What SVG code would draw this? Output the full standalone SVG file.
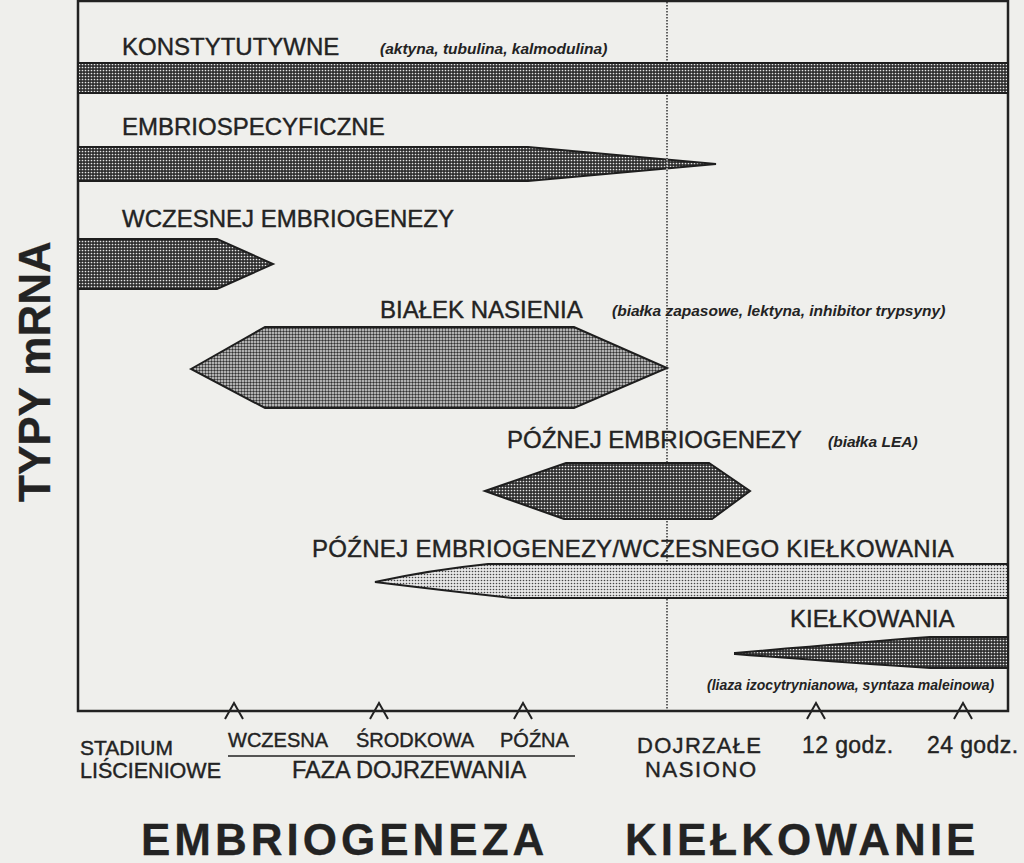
<svg xmlns="http://www.w3.org/2000/svg" width="1024" height="863" viewBox="0 0 1024 863">
<defs>
<pattern id="pDark" patternUnits="userSpaceOnUse" width="3" height="3">
<rect width="3" height="3" fill="#2e2e2e"/>
<circle cx="1.5" cy="1.5" r="0.85" fill="#e6e6e6"/>
</pattern>
<pattern id="pMed" patternUnits="userSpaceOnUse" width="3" height="3">
<rect width="3" height="3" fill="#dcdcdc"/>
<circle cx="1.5" cy="1.5" r="1.2" fill="#333"/>
</pattern>
<pattern id="pLight" patternUnits="userSpaceOnUse" width="3" height="3">
<rect width="3" height="3" fill="#e6e6e6"/>
<circle cx="1.5" cy="1.5" r="0.8" fill="#444"/>
</pattern>
</defs>
<style>
text{font-family:"Liberation Sans",Arial,sans-serif;fill:#232323;stroke:#232323;stroke-width:0.4}
.lbl{font-size:24px}
.ann{font-size:15.5px;font-weight:bold;font-style:italic;stroke-width:0}
.ax{font-size:21px}
.big{font-size:44px;font-weight:bold;letter-spacing:4px;stroke-width:0.3}
.bar{stroke:#1e1e1e;stroke-width:2;stroke-linejoin:miter}
.dark{fill:url(#pDark)}
.med{fill:url(#pMed)}
.light{fill:url(#pLight)}
.frame{fill:none;stroke:#222;stroke-width:2.5}
.tick{fill:none;stroke:#222;stroke-width:2}
</style>
<rect width="1024" height="863" fill="#efefec"/>

<g id="frame">
<line x1="667" y1="2" x2="667" y2="710" stroke="#333" stroke-width="1.5" stroke-dasharray="1.5 1.5"/>
<rect class="frame" x="78" y="1" width="930" height="710"/>
</g>

<g id="konstytutywne">
<rect class="bar dark" x="78" y="63" width="930" height="30"/>
<text class="lbl" x="122" y="54.5">KONSTYTUTYWNE</text>
<text class="ann" x="380" y="54">(aktyna, tubulina, kalmodulina)</text>
</g>

<g id="embriospecyficzne">
<polygon class="bar dark" points="78,147 528,147 716,164 528,181 78,181"/>
<text class="lbl" x="122" y="135">EMBRIOSPECYFICZNE</text>
</g>

<g id="wczesnej">
<polygon class="bar dark" points="78,239 217,239 273,264 217,289 78,289"/>
<text class="lbl" x="122" y="227">WCZESNEJ EMBRIOGENEZY</text>
</g>

<g id="bialek">
<polygon class="bar med" points="191,369 265,327 574,327 667,368 574,408 265,408"/>
<text class="lbl" x="380" y="318">BIAŁEK NASIENIA</text>
<text class="ann" x="612" y="316">(białka zapasowe, lektyna, inhibitor trypsyny)</text>
</g>

<g id="poznej">
<polygon class="bar dark" points="485,491 566,463 709,463 750,491 712,519 564,519"/>
<text class="lbl" x="507" y="448">PÓŹNEJ EMBRIOGENEZY</text>
<text class="ann" x="828" y="447">(białka LEA)</text>
</g>

<g id="poznej-wczesnego">
<path class="bar light" d="M375,582 Q430,570 488,564 L1008,564 L1008,598 L512,598 Q440,590 375,582 Z"/>
<text class="lbl" x="312" y="557" style="letter-spacing:0.3px">PÓŹNEJ EMBRIOGENEZY/WCZESNEGO KIEŁKOWANIA</text>
</g>

<g id="kielkowania">
<path class="bar dark" d="M735,653 Q850,643 930,637 L1008,637 L1008,668 L930,668 Q850,663 735,654 Z"/>
<text class="lbl" x="790" y="627">KIEŁKOWANIA</text>
<text class="ann" x="707" y="690" style="font-size:14px">(liaza izocytrynianowa, syntaza maleinowa)</text>
</g>

<g id="connectors">
<line x1="667" y1="150" x2="667" y2="178" stroke="#ddd" stroke-width="1.2" stroke-dasharray="1.5 1.5"/>
<polyline class="tick" points="225,719 234,703 243,719"/>
<polyline class="tick" points="370,719 379,703 388,719"/>
<polyline class="tick" points="514,719 523,703 532,719"/>
<polyline class="tick" points="807,719 816,703 825,719"/>
<polyline class="tick" points="954,719 963,703 972,719"/>
<line x1="228" y1="756" x2="575" y2="756" stroke="#222" stroke-width="1.5"/>
</g>

<g id="axis-labels">
<text class="ax" x="80" y="755">STADIUM</text>
<text class="ax" x="80" y="778" style="font-size:21.5px">LIŚCIENIOWE</text>
<text class="ax" x="228" y="747" style="font-size:20px">WCZESNA</text>
<text class="ax" x="356" y="747" style="font-size:20px">ŚRODKOWA</text>
<text class="ax" x="500" y="747" style="font-size:20px">PÓŹNA</text>
<text class="ax" x="292" y="778" style="font-size:23.5px">FAZA DOJRZEWANIA</text>
<text class="ax" x="637" y="753" style="font-size:22px;letter-spacing:1.3px">DOJRZAŁE</text>
<text class="ax" x="645" y="777" style="font-size:22px;letter-spacing:1.6px">NASIONO</text>
<text class="ax" x="802" y="753" style="font-size:23px;letter-spacing:0.4px">12 godz.</text>
<text class="ax" x="927" y="753" style="font-size:23px;letter-spacing:0.4px">24 godz.</text>
</g>

<g id="titles">
<text class="big" x="141" y="855">EMBRIOGENEZA</text>
<text class="big" x="625" y="855">KIEŁKOWANIE</text>
<text transform="translate(50,502) rotate(-90)" style="font-size:44px;font-weight:bold;stroke-width:0.3">TYPY mRNA</text>
</g>
</svg>
